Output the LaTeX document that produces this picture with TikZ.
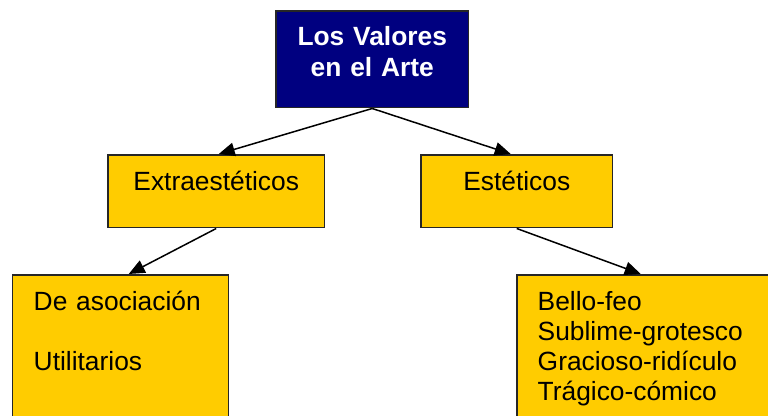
\documentclass[tikz,border=0pt]{standalone}
\usepackage{fontspec}
\setmainfont{Liberation Sans}
\usepackage{xcolor}
\usetikzlibrary{arrows.meta,positioning}

\definecolor{navyblue}{HTML}{000080}
\definecolor{gold}{HTML}{FFCC00}

\begin{document}
\begin{tikzpicture}[
        x=0.02cm, y=-0.02cm,
        every node/.style={font=\fontsize{15}{17}\selectfont},
        valbox/.style={rectangle, draw=black!85, line width=0.03cm, fill=gold, inner xsep=0pt, inner ysep=0pt, text height=0.72cm, text depth=0.74cm, align=center},
        titlebox/.style={valbox, fill=navyblue, text=white, text height=0.70cm, text depth=1.24cm, font=\fontsize{15}{17.6}\selectfont\bfseries},
        listbox/.style={valbox, align=left, inner xsep=0.42cm, text depth=3cm},
        arrow/.style={line width=0.03cm, -{Triangle[length=0.32cm, width=0.27cm]}}
    ]
        \useasboundingbox (0,0) rectangle (768,416);
        \fill[white] (0,0) rectangle (768,416);
        \clip (0,0) rectangle (768,416);

        % Top
        \node[titlebox, anchor=north west, text width=3.86cm] (valores) at (275,10) {Los Valores\\en el Arte};

        % Two kinds of values
        \node[valbox, anchor=north west, text width=4.34cm] (extra) at (107,154) {Extraestéticos};
        \node[valbox, anchor=north west, text width=3.84cm] (estet) at (420,154) {Estéticos};

        % Lists
        \node[listbox, anchor=north west, text width=3.48cm] (asoc) at (12,274) {De asociación\\[17pt]Utilitarios};
        \node[listbox, anchor=north west, text width=4.64cm] (bello) at (516,274) {Bello-feo\\Sublime-grotesco\\Gracioso-ridículo\\Trágico-cómico};

        % Connections
        \draw[arrow] (valores.south) -- ([xshift=0.05cm]extra.north);
        \draw[arrow] (valores.south) -- ([xshift=-0.12cm]estet.north);
        \draw[arrow] (extra.south) -- ([xshift=0.16cm]asoc.north);
        \draw[arrow] (estet.south) -- ([xshift=-0.26cm]bello.north);
    \end{tikzpicture}
\end{document}
